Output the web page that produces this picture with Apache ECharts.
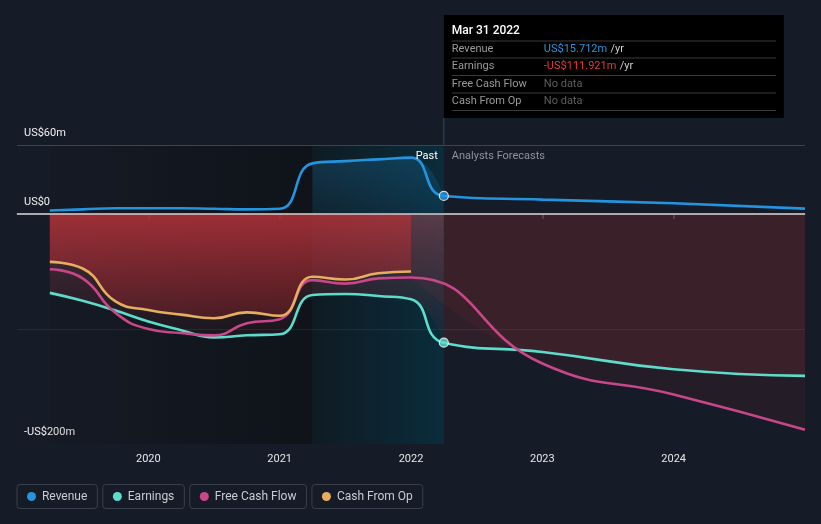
<!DOCTYPE html>
<html><head><meta charset="utf-8">
<style>html,body{margin:0;padding:0;background:#161c27;}#c{width:821px;height:524px;}</style>
<script src="https://cdn.jsdelivr.net/npm/echarts@6/dist/echarts.min.js"></script>
</head><body><div id="c"></div>
<script>
// ---- data (US$ m), periods as decimal years ----
const pastPeriods = [2019.25, 2019.5, 2019.75, 2020.0, 2020.25, 2020.5, 2020.75, 2021.0, 2021.25, 2021.5, 2021.75, 2022.0, 2022.25];
const revenuePast  = [3, 4, 5, 5, 5, 4.5, 4, 4.5, 44, 46, 47.5, 49, 15.712];
const earningsPast = [-68.6, -75.5, -84, -93.5, -101, -107.3, -105.5, -104.6, -70.5, -69.6, -71.3, -74.2, -111.921];
const fcfPeriods   = [2019.25, 2019.5, 2019.75, 2020.0, 2020.25, 2020.5, 2020.75, 2021.0, 2021.25, 2021.5, 2021.75, 2022.0];
const fcfPast      = [-48, -56, -86, -100, -103.5, -105.5, -95, -91.5, -57.5, -60.5, -56, -55.2];
const cfoPast      = [-41.6, -47.4, -76, -83.5, -87.5, -90.7, -85.5, -88.5, -54.6, -57, -51.5, -50];
const forecastPeriods  = [2023.0, 2024.0, 2025.0];
const revenueForecast  = [12.5, 9.3, 4.7];
const earningsForecast = [-120, -135, -140.8];
const fcfForecast      = [-130, -157, -187.6];
const yTicks = [60, 0, -200];
const xTicks = [2020, 2021, 2022, 2023, 2024];
const lastReported = 2022.25;
const highlightStart = 2021.25;

const C = {rev:'#2394df', earn:'#5ddccb', fcf:'#c8468a', cfo:'#e6ae60'};
const pair = (t, v) => t.map((x, i) => [x, v[i]]);
const revenueAll  = pair(pastPeriods, revenuePast).concat(pair(forecastPeriods, revenueForecast));
const earningsAll = pair(pastPeriods, earningsPast).concat(pair(forecastPeriods, earningsForecast));
const fcfAll      = pair(fcfPeriods, fcfPast).concat(pair(forecastPeriods, fcfForecast));
const cfoAll      = pair(fcfPeriods, cfoPast);
const hlIdx = pastPeriods.indexOf(highlightStart);
const revenueHL = pair(pastPeriods.slice(hlIdx), revenuePast.slice(hlIdx));
const earningsFc = pair([lastReported].concat(forecastPeriods), [earningsPast[earningsPast.length-1]].concat(earningsForecast));
const fcfFc = pair([fcfPeriods[fcfPeriods.length-1]].concat(forecastPeriods), [fcfPast[fcfPast.length-1]].concat(fcfForecast));

const FONT = 'Roboto, "Noto Sans", sans-serif';
const SM = 0.5;
const lineBase = {type:'line', smooth:SM, showSymbol:false, symbol:'none', silent:true, z:5};
const areaOnly = {type:'line', smooth:SM, showSymbol:false, symbol:'none', silent:true, lineStyle:{width:0, opacity:0}, z:2};

const chart = echarts.init(document.getElementById('c'), null, {renderer:'canvas'});
const option = {
  backgroundColor:'#161c27',
  animation:false,
  textStyle:{fontFamily:FONT},
  grid:{left:17, right:16, top:145, bottom:80, containLabel:false},
  xAxis:{type:'value', min:2019, max:2025, interval:1,
    axisLine:{lineStyle:{color:'#4a4f5a', width:1.5}},
    axisTick:{customValues:xTicks, length:5, lineStyle:{color:'#4a4f5a', width:1.5}},
    axisLabel:{customValues:xTicks, color:'#e6e6e6', fontSize:11, margin:10, fontFamily:FONT, formatter:v=>String(v)},
    splitLine:{show:false}},
  yAxis:{type:'value', min:-200, max:60, interval:20,
    axisLine:{show:false}, axisTick:{show:false}, splitLine:{show:false},
    axisLabel:{customValues:yTicks, inside:true, margin:7, verticalAlign:'bottom', padding:[0,0,6,0],
      color:'#f0f0f0', fontSize:11, fontFamily:FONT,
      formatter:v => v===0 ? 'US$0' : (v<0 ? '-US$'+(-v)+'m' : 'US$'+v+'m')}},
  legend:{left:7, top:479, itemGap:0, itemWidth:0, itemHeight:0, icon:'circle', selectedMode:false,
    data:['Revenue','Earnings','Free Cash Flow','Cash From Op'],
    formatter:n => '{'+({'Revenue':'r','Earnings':'e','Free Cash Flow':'f','Cash From Op':'c'})[n]+'|}  '+n,
    textStyle:{color:'#c9ccd2', fontSize:12, fontFamily:FONT, borderColor:'#3a3f4b', borderWidth:1, borderRadius:3,
      padding:[6,10,6,10],
      rich:{r:{width:9,height:9,borderRadius:4.5,backgroundColor:C.rev},
            e:{width:9,height:9,borderRadius:4.5,backgroundColor:C.earn},
            f:{width:9,height:9,borderRadius:4.5,backgroundColor:C.fcf},
            c:{width:9,height:9,borderRadius:4.5,backgroundColor:C.cfo}}}},
  series:[
    {type:'line', data:[], silent:true, z:0,
      markArea:{silent:true, data:[
        [{xAxis:pastPeriods[0], itemStyle:{color:{type:'linear',x:0,y:0,x2:1,y2:0,colorStops:[
          {offset:0,color:'rgba(8,10,12,0.08)'},{offset:1,color:'rgba(8,10,12,0.5)'}]}}}, {xAxis:highlightStart}],
        [{xAxis:highlightStart, itemStyle:{color:{type:'linear',x:0,y:0,x2:1,y2:0,colorStops:[
          {offset:0,color:'#0f1b23'},{offset:1,color:'#0a2c3b'}]}}}, {xAxis:lastReported}]
      ]}},
    Object.assign({}, areaOnly, {name:'revHL', data:revenueHL,
      areaStyle:{color:{type:'linear',x:0,y:0,x2:0,y2:1,colorStops:[{offset:0,color:'rgba(30,130,190,0.35)'},{offset:1,color:'rgba(30,130,190,0.12)'}]}}}),
    Object.assign({}, areaOnly, {name:'earnPastArea', data:pair(pastPeriods, earningsPast),
      areaStyle:{color:{type:'linear',x:0,y:0,x2:0,y2:1,colorStops:[{offset:0,color:'rgba(190,90,105,0.55)'},{offset:1,color:'rgba(140,40,50,0.08)'}]}}}),
    Object.assign({}, areaOnly, {name:'cfoArea', data:cfoAll,
      areaStyle:{color:{type:'linear',x:0,y:0,x2:0,y2:1,colorStops:[{offset:0,color:'rgba(210,45,50,0.82)'},{offset:1,color:'rgba(190,40,45,0.38)'}]}}}),
    Object.assign({}, areaOnly, {name:'earnFcArea', data:earningsFc, areaStyle:{color:'rgba(200,50,55,0.2)'}}),
    Object.assign({}, areaOnly, {name:'fcfFcArea', data:fcfFc, areaStyle:{color:'rgba(200,50,55,0.11)'}}),
    {type:'line', data:[], silent:true, z:3,
      markLine:{silent:true, symbol:'none', label:{show:false}, data:[
        {yAxis:60, lineStyle:{color:'#3d424d', width:1, type:'solid'}},
        {yAxis:-100, lineStyle:{color:'rgba(255,255,255,0.07)', width:1, type:'solid'}},
        {yAxis:0, lineStyle:{color:'#cfcfcf', width:1.5, type:'solid'}}
      ]}},
    Object.assign({}, lineBase, {name:'Revenue', data:revenueAll, color:C.rev, lineStyle:{color:C.rev, width:2.6}}),
    Object.assign({}, lineBase, {name:'Earnings', data:earningsAll, color:C.earn, lineStyle:{color:C.earn, width:2.6}}),
    Object.assign({}, lineBase, {name:'Free Cash Flow', data:fcfAll, color:C.fcf, lineStyle:{color:C.fcf, width:2.6}}),
    Object.assign({}, lineBase, {name:'Cash From Op', data:cfoAll, color:C.cfo, lineStyle:{color:C.cfo, width:2.6}, z:6}),
    {type:'scatter', silent:true, z:8, symbolSize:9,
      data:[{value:[lastReported, revenuePast[revenuePast.length-1]], itemStyle:{color:C.rev}},
            {value:[lastReported, earningsPast[earningsPast.length-1]], itemStyle:{color:C.earn}}],
      itemStyle:{borderColor:'#ffffff', borderWidth:1.2}}
  ]
};
chart.setOption(option);

const xc = chart.convertToPixel({xAxisIndex:0}, lastReported);
const yTop = chart.convertToPixel({yAxisIndex:0}, 60);
const tipX = xc, tipY = 15, tipW = 340, tipH = 103;
const rowYs = [49, 66.5, 84, 101];
const rowLines = [41, 58, 75.5, 93, 110.5];
const labels = ['Revenue','Earnings','Free Cash Flow','Cash From Op'];
const g = [
  {type:'line', silent:true, z:50, shape:{x1:xc, y1:tipY+tipH, x2:xc, y2:yTop}, style:{stroke:'rgba(45,95,120,0.7)', lineWidth:1}},
  {type:'rect', silent:true, z:60, shape:{x:tipX, y:tipY, width:tipW, height:tipH}, style:{fill:'#000'}},
  {type:'text', silent:true, z:61, x:tipX+8, y:31, style:{text:'Mar 31 2022', fill:'#ffffff', font:'500 12px '+FONT, verticalAlign:'middle'}},
  {type:'text', silent:true, z:50, x:xc-6, y:yTop+11.5, style:{text:'Past', fill:'#ffffff', font:'11px '+FONT, align:'right', verticalAlign:'middle'}},
  {type:'text', silent:true, z:50, x:xc+8, y:yTop+11.5, style:{text:'Analysts Forecasts', fill:'#8d929b', font:'11px '+FONT, verticalAlign:'middle'}}
];
rowLines.forEach(y => g.push({type:'line', silent:true, z:61, shape:{x1:tipX+8, y1:y, x2:tipX+tipW-8, y2:y}, style:{stroke:'#3a3a3a', lineWidth:1}}));
labels.forEach((l, i) => g.push({type:'text', silent:true, z:61, x:tipX+8, y:rowYs[i], style:{text:l, fill:'#9a9a9a', font:'11px '+FONT, verticalAlign:'middle'}}));
const vals = [
  {text:'{a|US$15.712m} {b|/yr}', ca:'#2394df'},
  {text:'{a|-US$111.921m} {b|/yr}', ca:'#e8373c'},
  {text:'{n|No data}'}, {text:'{n|No data}'}
];
vals.forEach((v, i) => g.push({type:'text', silent:true, z:61, x:tipX+100, y:rowYs[i], style:{text:v.text, verticalAlign:'middle',
  rich:{a:{fill:v.ca||'#fff', font:'11px '+FONT}, b:{fill:'#cfcfcf', font:'11px '+FONT}, n:{fill:'#5f5f5f', font:'11px '+FONT}}}}));
chart.setOption({graphic:{elements:g}});
</script></body></html>
